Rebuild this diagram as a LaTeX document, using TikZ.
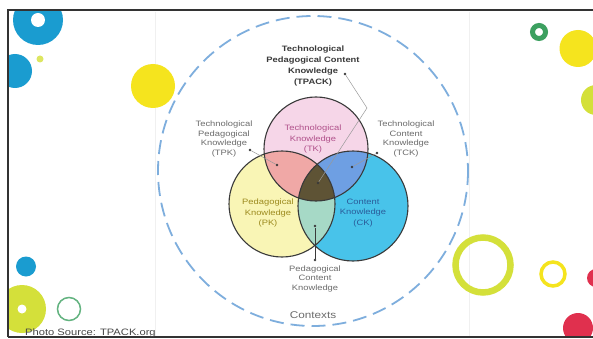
\documentclass[tikz,border=0pt]{standalone}
\usepackage{fontspec}
\setmainfont{Liberation Sans}[FakeStretch=1.2]
\definecolor{tkfill}{HTML}{F6D6E8}
\definecolor{pkfill}{HTML}{F9F5B5}
\definecolor{ckfill}{HTML}{48C3EA}
\definecolor{tpkfill}{HTML}{F0A8A6}
\definecolor{tckfill}{HTML}{6E9FE3}
\definecolor{pckfill}{HTML}{A6D9C6}
\definecolor{allfill}{HTML}{5E5335}
\definecolor{outl}{HTML}{3A3A3A}
\definecolor{ctxblue}{HTML}{7EAEDD}
\definecolor{lbl}{HTML}{6B6B6B}
\definecolor{tklbl}{HTML}{B0508A}
\definecolor{pklbl}{HTML}{9C8A1E}
\definecolor{cklbl}{HTML}{2A5C9A}
\definecolor{decoblue}{HTML}{1A9CD0}
\definecolor{decoyel}{HTML}{F5E41E}
\definecolor{decolime}{HTML}{D4E03A}
\definecolor{decogreen}{HTML}{3CA060}
\definecolor{decored}{HTML}{E0304E}
\definecolor{framec}{HTML}{333333}
\begin{document}
\begin{tikzpicture}[x=1pt,y=-1pt,
  vring/.style={circle,draw=outl,line width=1.1pt,inner sep=0pt},
  sidelbl/.style={align=center,text=lbl,font=\fontsize{7.8}{9.5}\selectfont,inner sep=0pt},
  inlbl/.style={align=center,font=\fontsize{7.8}{10.4}\selectfont,inner sep=0pt},
  dotnode/.style={circle,fill=outl,inner sep=0pt,minimum size=2.6pt},
  conn/.style={draw=gray!80,line width=0.5pt}]
\useasboundingbox (0,0) rectangle (593,339);
\fill[white] (0,0) rectangle (593,339);
% faint panel edges
\draw[gray!12,line width=0.6pt] (155,12) -- (155,336) (469,12) -- (469,336);
% decorations
\begin{scope}
  \clip (8,10) rectangle (593,337);
  \fill[decoblue] (38,20) circle (25);
  \fill[white] (38,20) circle (7);
  \fill[decoblue] (15,71) circle (17);
  \fill[decolime!80] (40,59) circle (3.5);
  \fill[decoyel] (153,86) circle (22);
  \fill[decoblue] (26,266.5) circle (10);
  \fill[decolime] (22,309) circle (24);
  \fill[white] (22,309) circle (4.5);
  \draw[decogreen!80,line width=1.5pt] (69,309) circle (11.5);
  \draw[decogreen,line width=5pt] (539,32) circle (6.5);
  \fill[decoyel] (578,48.5) circle (18.5);
  \fill[decolime] (596,100) circle (15);
  \draw[decolime,line width=6.5pt] (483,265) circle (27.5);
  \draw[decoyel,line width=3.5pt] (553,274) circle (12);
  \fill[decored] (596,278) circle (9);
  \fill[decored] (578,328) circle (15);
\end{scope}
% frame
\draw[framec,line width=2.5pt] (8,337) -- (8,10) -- (593,10);
\draw[framec,line width=1.5pt] (8,337) -- (593,337);
% contexts circle
\draw[ctxblue,line width=1.8pt,dash pattern=on 14pt off 7pt] (313,171) circle (155);
% Venn fills
\fill[tkfill] (316,149) circle (52);
\fill[pkfill] (282,204) circle (53);
\fill[ckfill] (353,206) circle (55);
\begin{scope}
  \clip (316,149) circle (52);
  \fill[tpkfill] (282,204) circle (53);
  \fill[tckfill] (353,206) circle (55);
\end{scope}
\begin{scope}
  \clip (282,204) circle (53);
  \fill[pckfill] (353,206) circle (55);
\end{scope}
\begin{scope}
  \clip (316,149) circle (52);
  \clip (282,204) circle (53);
  \fill[allfill] (353,206) circle (55);
\end{scope}
% Venn outlines
\node[vring,minimum size=104pt] (TK) at (316,149) {};
\node[vring,minimum size=106pt] (PK) at (282,204) {};
\node[vring,minimum size=110pt] (CK) at (353,206) {};
% labels
\node[align=center,text=outl,font=\bfseries\fontsize{7.8}{11.3}\selectfont,inner sep=0pt] (tpack) at (313,66)
  {Technological\\Pedagogical Content\\Knowledge\\(TPACK)};
\node[sidelbl] (tpk) at (224,139) {Technological\\Pedagogical\\Knowledge\\(TPK)};
\node[sidelbl] (tck) at (406,139) {Technological\\Content\\Knowledge\\(TCK)};
\node[inlbl,text=tklbl] (tkl) at (313,139) {Technological\\Knowledge\\(TK)};
\node[inlbl,text=pklbl] (pkl) at (268,213) {Pedagogical\\Knowledge\\(PK)};
\node[inlbl,text=cklbl] (ckl) at (363,213) {Content\\Knowledge\\(CK)};
\node[sidelbl] (pck) at (315,278.5) {Pedagogical\\Content\\Knowledge};
\node[text=lbl,font=\fontsize{9.8}{11}\selectfont,inner sep=0pt] (ctx) at (313,315) {Contexts};
\node[anchor=base west,text=framec!90,font=\fontsize{9.3}{10}\selectfont,inner sep=0pt] (src) at (25,335.5) {Photo Source: TPACK.org};
% dots and connectors
\node[dotnode] (dtpack) at (345,74) {};
\node[dotnode] (dall) at (318,183) {};
\coordinate (bend) at (367,108);
\draw[conn] (dtpack) -- (bend) -- (dall);
\node[dotnode] (dtpk) at (250,150) {};
\node[dotnode] (rtpk) at (277,165) {};
\draw[conn] (dtpk) -- (rtpk);
\node[dotnode] (dtck) at (377,153) {};
\node[dotnode] (rtck) at (352,167) {};
\draw[conn] (dtck) -- (rtck);
\node[dotnode] (dpck) at (315,260) {};
\node[dotnode] (rpck) at (315,226) {};
\draw[conn,draw=outl] (dpck) -- (rpck);
\end{tikzpicture}
\end{document}
